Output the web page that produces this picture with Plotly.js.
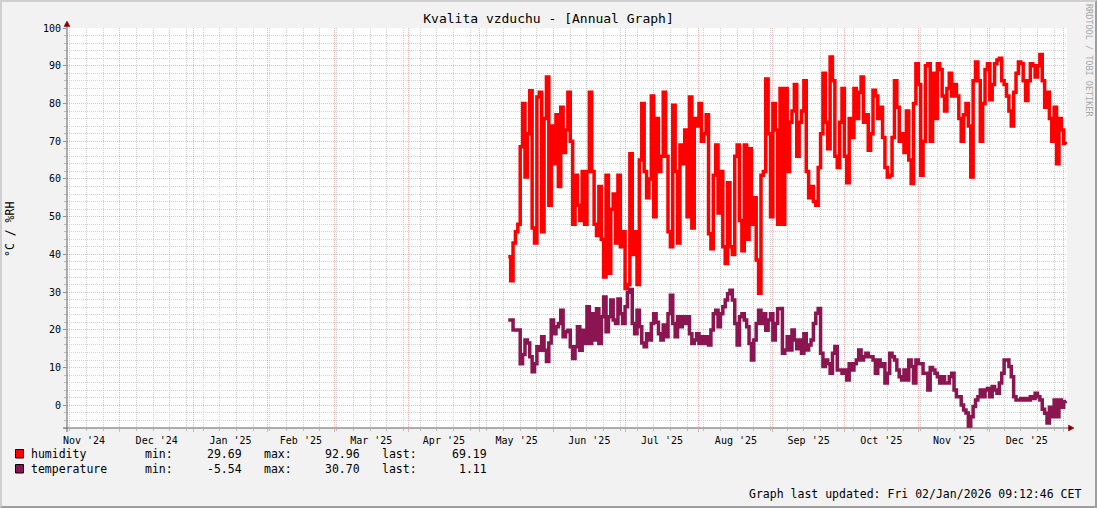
<!DOCTYPE html>
<html><head><meta charset="utf-8">
<script src="https://cdn.plot.ly/plotly-3.0.1.min.js"></script>
<style>
html,body{margin:0;padding:0;background:#f2f2f2;}
#wrap{position:relative;width:1097px;height:508px;}
#chart{width:1097px;height:508px;}
#frame{position:absolute;left:0;top:0;width:1097px;height:508px;box-sizing:border-box;border-top:2px solid #cfcfcf;border-left:2px solid #cfcfcf;border-right:2px solid #9e9e9e;border-bottom:2px solid #9e9e9e;pointer-events:none;}
</style>
</head><body>
<div id="wrap"><div id="chart"></div><div id="frame"></div></div>
<script>
// ---- data (daily values, starting 2025-05-13) ----
const seriesStart = Date.UTC(2025, 4, 13);
const humidity = [
39.4,33,43,46,48,68.5,80,60.5,72,83.4,
47,43,81.7,83,46,76,87,53,74,64,
77,58,79,67,73,83,70,48,61,53,
49,62,48,62,83,62,48,45,58,44,
34,61,35,52,56,43,61,42,46,31,
32,66.7,40,46,32,65,80,62,55,60,
82,50,76,62,66,83,66,46,42,79.5,
62,43,69,64,73,50,81.7,47,76,74,
80,70,72,77,45.5,41.5,61,69,51,62,
42,37.6,59,42,40,66,69,49,41,69,
44,68,48,55,38.5,29.69,61,62,86.5,72,
50,80,73,48,84,48,84,62,75,78,
85,66,75,78,86,62,55,58,54,53,
63,72,88,75,68,92.3,86,66,63,75,
84,66,59,76,71,84,76,83,87,75,
77,67.6,72,83.5,82,76,79,71,63,60.5,
61,71,86,79,70,72,67,78,65,58.8,
80,90.5,85,61,70,90,90.5,70,88,76,
90.5,89,82,78,84,88,82,85,82,76,
70,77,80,74,60.5,86,91,86,70,80,
89,90.5,81,85,90.5,91.5,92,86,85,82,
78,74,83,88,91,90.5,86,80.8,86,90.5,
90,87,90,92.96,86,79,83,76,70,79,
64,76,73,69.4,69.19
];
const temperature = [
22.6,22.6,20,20,20,11,13.5,17.3,16.5,12.9,
8.9,11,15.5,14.6,18.2,14.6,11.6,16.5,22.6,19,
20.8,21.7,25.2,18.2,19.5,19.9,15.5,12.4,15.5,20.8,
14.6,19.9,16.4,26.1,16.4,24.3,17.3,25.6,16.4,23.5,
28.7,19.5,23.5,27.9,22.6,21.7,28.2,24.3,21.7,26.1,
30,30.7,21.7,19,25.2,20.8,16.5,15.5,19,17.3,
21.7,24.3,22,19,17.3,21.3,18.2,24.3,29.2,21.7,
18.2,23.5,20.8,23.5,21.7,23.5,19,16.4,17.3,19,
16.4,18.2,16.4,18.2,16,20,24.3,25.2,20.8,24.3,
26.1,27.9,29.6,30.5,27.9,21.7,16,23.5,24.3,22.6,
20.8,16.4,12,17.3,21.7,25.2,21.7,24.3,19.9,22.6,
24.3,17.3,21.7,25.6,25.7,13.8,14.7,18.2,14.7,20,
17.3,15,17.3,13.8,19,14.7,16,17.3,21.7,24.4,
25.7,13.8,10.3,12,11,8.5,13.8,15.6,9.4,9.4,
8.5,9.4,6.7,11,9.4,11,12,14.7,12,12.9,
13.8,12.9,12.9,12,8.5,12,10.3,11,5.9,8.5,
13.8,12.9,12,9.4,7.6,6.7,9.4,6.7,12,10.3,
5.9,12,11,11,8.5,8.5,4.1,10,9.4,8.5,
7.6,5.9,7.6,5.9,5.9,7.6,8.5,4.1,2.3,2.3,
0.1,-1.2,-2,-5.54,-3,-0.3,1.4,2.3,4.1,2.3,
4.1,4.5,2.3,5,4.1,3.2,5.9,8.5,12,12,
10.3,7.6,2.3,1.4,1.4,1.8,1.4,1.8,1.4,2.3,
1.8,3.2,2.3,1.4,-1,-2.1,-4.7,-0.5,-3,1.4,
-3,1.4,-0.5,1.0,1.11
];
const seriesNames = ['humidity', 'temperature'];
const seriesColors = ['#ff0000', '#8a1550'];
const statMin = ['29.69', '-5.54'];
const statMax = ['92.96', '30.70'];
const statLast = ['69.19', '1.11'];
const chartTitle = 'Kvalita vzduchu - [Annual Graph]';
const yTitle = '°C / %RH';
const footer = 'Graph last updated: Fri 02/Jan/2026 09:12:46 CET';
const watermark = 'RRDTOOL / TOBI OETIKER';

// ---- helpers ----
const MONO = 'DejaVu Sans Mono, monospace';
const L = 67, T = 28, W = 1000, H = 400;
const px = p => (p - L) / W;
const py = p => (T + H - p) / H;
const dates = arr => arr.map((_, i) => new Date(seriesStart + i * 86400000).toISOString().slice(0, 10));

const traces = [humidity, temperature].map((vals, k) => ({
  type: 'scatter', mode: 'lines', x: dates(vals), y: vals,
  line: {color: seriesColors[k], width: 3.5, shape: 'hv'},
  hoverinfo: 'skip', showlegend: false
}));

const majorGrid = 'rgba(230,0,0,0.28)';
const minorGrid = '#d2d2d2';

const shapes = [
  {type:'line', xref:'paper', yref:'paper', x0:px(67), x1:px(67), y0:py(432), y1:py(26), line:{color:'#606060', width:1}, layer:'above'},
  {type:'line', xref:'paper', yref:'paper', x0:px(63), x1:px(1069), y0:py(428), y1:py(428), line:{color:'#606060', width:1}, layer:'above'},
  {type:'path', xref:'paper', yref:'paper', path:`M ${px(64)},${py(26.5)} L ${px(70)},${py(26.5)} L ${px(67)},${py(21)} Z`, fillcolor:'#880000', line:{color:'#880000', width:0.5}, layer:'above'},
  {type:'path', xref:'paper', yref:'paper', path:`M ${px(1068.5)},${py(425)} L ${px(1068.5)},${py(431)} L ${px(1074)},${py(428)} Z`, fillcolor:'#880000', line:{color:'#880000', width:0.5}, layer:'above'}
];

const annotations = [];
const rowY = [453.5, 468.5];
seriesNames.forEach((name, k) => {
  const y = rowY[k];
  shapes.push({type:'rect', xref:'paper', yref:'paper', x0:px(15.5), x1:px(23.5), y0:py(y+4.5), y1:py(y-4), fillcolor:seriesColors[k], line:{color:'#000', width:1}});
  const cols = [
    [name, 30, 'left'], ['min:', 144, 'left'], [statMin[k], 242.5, 'right'],
    ['max:', 263, 'left'], [statMax[k], 361, 'right'], ['last:', 381, 'left'], [statLast[k], 487.5, 'right']
  ];
  cols.forEach(([t, x, anc]) => annotations.push({
    text: t, xref:'paper', yref:'paper', x:px(x), y:py(y), xanchor:anc, yanchor:'middle',
    showarrow:false, borderpad:0, font:{family:MONO, size:11.5, color:'#000'}
  }));
});
annotations.push({text: footer, xref:'paper', yref:'paper', x:px(1081.5), y:py(494), xanchor:'right', yanchor:'middle', showarrow:false, borderpad:0, font:{family:MONO, size:11.5, color:'#000'}});
annotations.push({text: yTitle, xref:'paper', yref:'paper', x:px(10), y:py(230), xanchor:'center', yanchor:'middle', textangle:-90, showarrow:false, borderpad:0, font:{family:MONO, size:11.5, color:'#000'}});
annotations.push({text: watermark, xref:'paper', yref:'paper', x:px(1089), y:py(60), xanchor:'center', yanchor:'middle', textangle:90, showarrow:false, borderpad:0, font:{family:MONO, size:8.5, color:'#a8a8a8'}});

const layout = {
  width:1097, height:508, autosize:false,
  margin:{l:L, r:1097-L-W, t:T, b:508-T-H, pad:0},
  paper_bgcolor:'#f2f2f2', plot_bgcolor:'#ffffff',
  showlegend:false,
  font:{family:MONO, size:10, color:'#000'},
  title:{text:chartTitle, font:{family:MONO, size:13, color:'#000'}, x:548.5/1097, xanchor:'center', xref:'container', y:1-18/508, yref:'container', yanchor:'middle'},
  xaxis:{
    type:'date', range:['2024-11-08 21:00', '2026-01-02 09:12'],
    tick0:'2024-11-01', dtick:'M1', tickformat:"%b '%y", ticklabelmode:'period',
    showgrid:true, gridcolor:majorGrid, griddash:'1px,1px', gridwidth:1,
    ticks:'outside', ticklen:3, tickcolor:majorGrid, tickwidth:1,
    minor:{tick0:'2024-11-17', dtick:604800000, showgrid:true, gridcolor:minorGrid, griddash:'1px,1px', gridwidth:1, ticks:'outside', ticklen:2, tickcolor:'#bbbbbb'},
    tickfont:{family:MONO, size:10, color:'#000'},
    showline:false, zeroline:false, fixedrange:true
  },
  yaxis:{
    range:[-6, 100], tick0:0, dtick:10,
    showgrid:true, gridcolor:majorGrid, griddash:'1px,1px', gridwidth:1,
    ticks:'outside', ticklen:3, tickcolor:'#909090', tickwidth:1,
    minor:{tick0:0, dtick:2, showgrid:true, gridcolor:minorGrid, griddash:'1px,1px', gridwidth:1, ticks:'outside', ticklen:2, tickcolor:'#bbbbbb'},
    tickfont:{family:MONO, size:10, color:'#000'},
    showline:false, zeroline:false, fixedrange:true
  },
  shapes, annotations
};

Plotly.newPlot('chart', traces, layout, {staticPlot:true, displayModeBar:false});
</script>
</body></html>
